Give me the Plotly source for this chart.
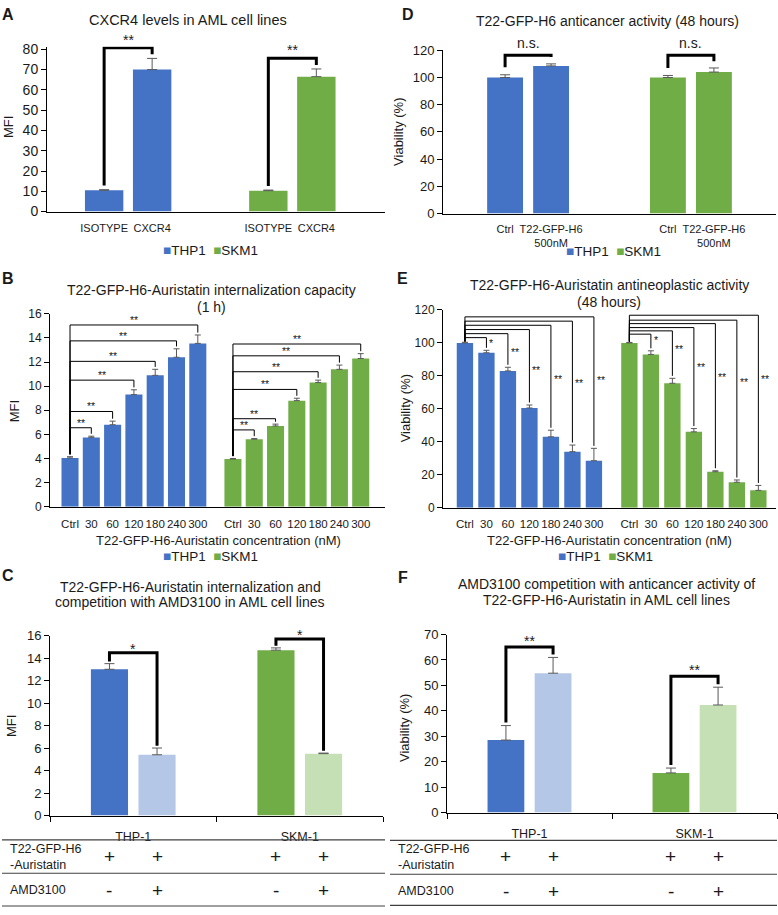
import plotly.graph_objects as go

W, H = 778, 915
FONT = "Liberation Sans, Arial, Helvetica, sans-serif"
TXT = "#1a1a1a"
BLUE, GREEN = "#4472C4", "#70AD47"
LBLUE, LGREEN = "#B4C7E7", "#C5E0B4"
ERRC = "#595959"

# ---------------- data ----------------
# Panel A
a_labels = ["ISOTYPE", "CXCR4"]
a_thp1 = [10.5, 70.0]
a_thp1_err = [0.3, 5.5]
a_skm1 = [10.3, 66.5]
a_skm1_err = [0.3, 3.8]
a_sig = ["**", "**"]
a_bracket_top = [80.7, 75.6]

# Panel D
d_labels = ["Ctrl", "T22-GFP-H6<br>500nM"]
d_thp1 = [100.0, 108.5]
d_thp1_err = [2.0, 1.5]
d_skm1 = [100.0, 104.0]
d_skm1_err = [1.5, 3.0]
d_sig = ["n.s.", "n.s."]
d_bracket_top = [116.4, 116.4]

# Panel B
b_labels = ["Ctrl", "30", "60", "120", "180", "240", "300"]
b_thp1 = [4.05, 5.75, 6.8, 9.3, 10.9, 12.4, 13.55]
b_thp1_err = [0.1, 0.1, 0.3, 0.4, 0.5, 0.7, 0.7]
b_skm1 = [3.95, 5.6, 6.7, 8.8, 10.3, 11.4, 12.3]
b_skm1_err = [0.05, 0.05, 0.15, 0.2, 0.2, 0.35, 0.4]
b_thp1_sig = ["**", "**", "**", "**", "**", "**"]
b_skm1_sig = ["**", "**", "**", "**", "**", "**"]
b_thp1_levels = [6.55, 7.9, 10.5, 12.06, 13.76, 15.08]
b_skm1_levels = [6.37, 7.3, 9.73, 11.2, 12.52, 13.5]

# Panel E
e_labels = ["Ctrl", "30", "60", "120", "180", "240", "300"]
e_thp1 = [100.0, 94.0, 83.0, 60.5, 43.0, 34.0, 28.5]
e_thp1_err = [0.4, 1.5, 2.2, 1.8, 4.0, 4.0, 7.5]
e_skm1 = [100.0, 93.0, 75.5, 46.0, 21.8, 15.4, 10.5]
e_skm1_err = [0.3, 2.2, 3.0, 2.0, 0.6, 1.4, 3.0]
e_thp1_sig = ["*", "**", "**", "**", "**", "**"]
e_skm1_sig = ["*", "**", "**", "**", "**", "**"]
e_thp1_levels = [103.2, 105.6, 108.1, 110.7, 113.2, 115.8]
e_skm1_levels = [105.3, 107.3, 109.3, 111.7, 113.8, 116.8]
e_thp1_label_y = [100.0, 94.5, 83.5, 78.0, 75.5, 77.5]
e_skm1_label_y = [102.0, 96.5, 85.5, 79.5, 76.0, 78.0]

# Panel C
c_groups = ["THP-1", "SKM-1"]
c_drug = [13.0, 14.7]
c_drug_err = [0.5, 0.2]
c_drug_amd = [5.4, 5.5]
c_drug_amd_err = [0.6, 0.05]
c_sig = ["*", "*"]
c_bracket_top = [14.47, 15.7]

# Panel F
f_groups = ["THP-1", "SKM-1"]
f_drug = [28.5, 15.6]
f_drug_err = [5.7, 1.9]
f_drug_amd = [54.8, 42.3]
f_drug_amd_err = [6.2, 7.0]
f_sig = ["**", "**"]
f_bracket_top = [65.1, 53.6]

# Table rows (C and F)
row_labels = ["T22-GFP-H6<br>-Auristatin", "AMD3100"]
row_drug = ["+", "+", "+", "+"]
row_amd = ["-", "+", "-", "+"]

# ---------------- figure ----------------
fig = go.Figure()
shapes = []
ann = []


def sfx(n):
    return "" if n == 1 else str(n)


def txt(x, y, s, size, xref="paper", yref="paper", xanchor="center", yanchor="middle",
        bold=False, angle=0, xshift=0, yshift=0, align="center"):
    if xref == "paper":
        x = x / W
    if yref == "paper":
        y = 1 - y / H
    ann.append(dict(x=x, y=y, xref=xref, yref=yref, text=("<b>%s</b>" % s) if bold else s,
                    showarrow=False, xanchor=xanchor, yanchor=yanchor, textangle=angle,
                    xshift=xshift, yshift=yshift, align=align,
                    font=dict(family=FONT, size=size, color=TXT)))


axes = {}


def set_axes(n, xpx, ypx, xrange, yrange, dtick, tickvals, ticktext, xfs, yfs, standoff,
             minor_vals=None):
    s = sfx(n)
    xa = dict(domain=[xpx[0] / W, xpx[1] / W], range=xrange, anchor="y" + s,
              showline=True, linecolor="black", linewidth=1, ticks="",
              tickmode="array", tickvals=tickvals, ticktext=ticktext,
              tickfont=dict(family=FONT, size=xfs, color=TXT), showgrid=False,
              zeroline=False, ticklabelstandoff=standoff, fixedrange=True)
    if minor_vals is not None:
        xa["minor"] = dict(tickmode="array", tickvals=minor_vals, ticks="outside",
                           ticklen=5, tickcolor="black", tickwidth=1, showgrid=False)
    ya = dict(domain=[1 - ypx[1] / H, 1 - ypx[0] / H], range=yrange, anchor="x" + s,
              showline=True, linecolor="black", linewidth=1, ticks="outside", ticklen=5,
              tickcolor="black", tick0=0, dtick=dtick,
              tickfont=dict(family=FONT, size=yfs, color=TXT), showgrid=False,
              zeroline=False, fixedrange=True)
    axes["xaxis" + s] = xa
    axes["yaxis" + s] = ya


def add_bars(n, xs, ys, errs, colors, width, capw):
    s = sfx(n)
    fig.add_trace(go.Bar(
        x=xs, y=ys, width=width, marker=dict(color=colors, line=dict(width=0)),
        error_y=dict(type="data", array=errs, arrayminus=[0] * len(errs), symmetric=False,
                     color=ERRC, thickness=1, width=capw),
        xaxis="x" + s, yaxis="y" + s, showlegend=False, hoverinfo="skip"))


def bracket(n, x0, x1, y0, y1, top, width):
    s = sfx(n)
    path = "M %f,%f L %f,%f L %f,%f L %f,%f" % (x0, y0, x0, top, x1, top, x1, y1)
    shapes.append(dict(type="path", path=path, xref="x" + s, yref="y" + s,
                       line=dict(color="black", width=width)))


def legend_text(x, y):
    s = ("<span style='color:%s'>\u25A0</span>THP1  <span style='color:%s'>\u25A0</span>SKM1"
         % (BLUE, GREEN))
    txt(x, y, s, 13.5)


# ---------------- Panel A ----------------
A_GAP = 3.42
ax_t = [i for i in range(len(a_labels))]
ax_s = [i + A_GAP for i in range(len(a_labels))]
set_axes(1, (47, 385), (40.5, 208), [-1.19, 5.85], [0, 81.2], 10,
         ax_t + ax_s, a_labels + a_labels, 11, 14, 6)
add_bars(1, ax_t, a_thp1, a_thp1_err, BLUE, 0.8, 5)
add_bars(1, ax_s, a_skm1, a_skm1_err, GREEN, 0.8, 5)
for xs, vals, errs, top, sig in [(ax_t, a_thp1, a_thp1_err, a_bracket_top[0], a_sig[0]),
                                 (ax_s, a_skm1, a_skm1_err, a_bracket_top[1], a_sig[1])]:
    bracket(1, xs[0], xs[1], vals[0] + errs[0] + 2, vals[1] + errs[1] + 2, top, 3)
    txt((xs[0] + xs[1]) / 2, top, sig, 14, xref="x", yref="y", yanchor="bottom", yshift=-2)
txt(8, 8, "A", 16, bold=True)
txt(188, 13.5, "CXCR4 levels in AML cell lines", 14.5)
txt(9, 122, "MFI", 13, angle=-90)
legend_text(210, 248)

# ---------------- Panel D ----------------
D_GAP = 3.54
dx_t = [i for i in range(len(d_labels))]
dx_s = [i + D_GAP for i in range(len(d_labels))]
set_axes(2, (443, 776), (44, 210), [-1.35, 5.89], [0, 120], 20,
         dx_t + dx_s, d_labels + d_labels, 11, 13, 5)
add_bars(2, dx_t, d_thp1, d_thp1_err, BLUE, 0.78, 5)
add_bars(2, dx_s, d_skm1, d_skm1_err, GREEN, 0.78, 5)
for xs, vals, errs, top, sig in [(dx_t, d_thp1, d_thp1_err, d_bracket_top[0], d_sig[0]),
                                 (dx_s, d_skm1, d_skm1_err, d_bracket_top[1], d_sig[1])]:
    bracket(2, xs[0], xs[1], vals[0] + errs[0] + 5.5, vals[1] + errs[1] + 5, top, 3)
    txt((xs[0] + xs[1]) / 2, top, sig, 14, xref="x2", yref="y2", yanchor="bottom", yshift=2)
txt(408, 8, "D", 16, bold=True)
txt(607, 14, "T22-GFP-H6 anticancer activity (48 hours)", 14)
txt(399, 127, "Viability (%)", 13, angle=-90)
legend_text(613, 249)

# ---------------- Panel B ----------------
B_GAP = 7.65
bx_t = [i for i in range(len(b_labels))]
bx_s = [i + B_GAP for i in range(len(b_labels))]
set_axes(3, (50, 385), (312, 508), [-0.94, 14.79], [0, 16], 2,
         bx_t + bx_s, b_labels + b_labels, 11.5, 12, 7)
add_bars(3, bx_t, b_thp1, b_thp1_err, BLUE, 0.8, 3)
add_bars(3, bx_s, b_skm1, b_skm1_err, GREEN, 0.8, 3)
for xs, vals, errs, levels, sigs in [(bx_t, b_thp1, b_thp1_err, b_thp1_levels, b_thp1_sig),
                                     (bx_s, b_skm1, b_skm1_err, b_skm1_levels, b_skm1_sig)]:
    for k, (lvl, sig) in enumerate(zip(levels, sigs)):
        j = k + 1
        bracket(3, xs[0], xs[j], vals[0] + errs[0] + 0.2, vals[j] + errs[j] + 0.2, lvl, 1)
        txt((xs[0] + xs[j]) / 2, lvl, sig, 10.5, xref="x3", yref="y3", yanchor="bottom", yshift=-3)
txt(8, 276, "B", 16, bold=True)
txt(211, 288, "T22-GFP-H6-Auristatin internalization capacity", 14)
txt(211, 305, "(1 h)", 14)
txt(14, 411, "MFI", 13, angle=-90)
txt(218, 542, "T22-GFP-H6-Auristatin concentration (nM)", 13)
legend_text(210, 559)

# ---------------- Panel E ----------------
E_GAP = 7.65
ex_t = [i for i in range(len(e_labels))]
ex_s = [i + E_GAP for i in range(len(e_labels))]
set_axes(4, (443, 776), (308, 509), [-1.02, 14.47], [0, 120], 20,
         ex_t + ex_s, e_labels + e_labels, 11.5, 12, 6)
add_bars(4, ex_t, e_thp1, e_thp1_err, BLUE, 0.76, 3)
add_bars(4, ex_s, e_skm1, e_skm1_err, GREEN, 0.76, 3)
for xs, vals, errs, levels, sigs, ly in [
        (ex_t, e_thp1, e_thp1_err, e_thp1_levels, e_thp1_sig, e_thp1_label_y),
        (ex_s, e_skm1, e_skm1_err, e_skm1_levels, e_skm1_sig, e_skm1_label_y)]:
    for k, (lvl, sig, yy) in enumerate(zip(levels, sigs, ly)):
        j = k + 1
        bracket(4, xs[0], xs[j], vals[0] + errs[0] + 0.5, vals[j] + errs[j] + 1.5, lvl, 1)
        txt(xs[j], yy, sig, 10.5, xref="x4", yref="y4", xanchor="left", xshift=1)
txt(403, 276, "E", 16, bold=True)
txt(609, 283, "T22-GFP-H6-Auristatin antineoplastic activity", 14)
txt(609, 300, "(48 hours)", 14)
txt(405, 408, "Viability (%)", 13, angle=-90)
txt(609, 542, "T22-GFP-H6-Auristatin concentration (nM)", 13)
legend_text(605, 559)

# ---------------- Panel C / F helpers ----------------
CF_GAP = 3.5


def cf_panel(n, xpx, ypx, yrange, dtick, groups, v1, e1, v2, e2, sigs, tops, gap, yshift,
             colors1, colors2):
    s = sfx(n)
    x1 = [g * CF_GAP for g in range(len(groups))]
    x2 = [g * CF_GAP + 1 for g in range(len(groups))]
    centers = [(a + b) / 2 for a, b in zip(x1, x2)]
    bounds = [x1[0] - 1.25, (x2[0] + x1[1]) / 2, x2[-1] + 1.25]
    set_axes(n, xpx, ypx, [bounds[0], bounds[-1]], yrange, dtick, centers, groups, 12.5, 13, 9,
             minor_vals=bounds)
    add_bars(n, x1, v1, e1, colors1, 0.78, 5)
    add_bars(n, x2, v2, e2, colors2, 0.78, 5)
    for i in range(len(groups)):
        bracket(n, x1[i], x2[i], v1[i] + e1[i] + gap, v2[i] + e2[i] + gap, tops[i], 3)
        txt(centers[i], tops[i], sigs[i], 14, xref="x" + s, yref="y" + s, yanchor="bottom",
            yshift=yshift)
    return x1, x2


def table(n, x1, x2, xl, xr, y_lines, y_rows):
    s = sfx(n)
    for yl in y_lines:
        shapes.append(dict(type="line", xref="paper", yref="paper", x0=xl / W, x1=xr / W,
                           y0=1 - yl / H, y1=1 - yl / H, line=dict(color="#404040", width=1.2)))
    txt(xl + 6, y_rows[0], row_labels[0], 12.5, xanchor="left", align="left")
    txt(xl + 6, y_rows[1], row_labels[1], 12.5, xanchor="left", align="left")
    xs = []
    for a, b in zip(x1, x2):
        xs += [a, b]
    for x, sym in zip(xs, row_drug):
        txt(x, y_rows[0], sym, 19, xref="x" + s, yref="paper")
    for x, sym in zip(xs, row_amd):
        txt(x, y_rows[1], sym, 19, xref="x" + s, yref="paper")


# ---------------- Panel C ----------------
cx1, cx2 = cf_panel(5, (50, 383), (639, 822), [0, 16], 2, c_groups, c_drug, c_drug_err,
                    c_drug_amd, c_drug_amd_err, c_sig, c_bracket_top, 0.2, -6,
                    [BLUE, GREEN], [LBLUE, LGREEN])
table(5, cx1, cx2, 2, 385, [846.7, 880.7, 914], [864, 898])
txt(8, 578, "C", 16, bold=True)
txt(190, 590, "T22-GFP-H6-Auristatin internalization and", 14)
txt(190, 605, "competition with AMD3100 in AML cell lines", 14)
txt(11, 731, "MFI", 13, angle=-90)

# ---------------- Panel F ----------------
fx1, fx2 = cf_panel(6, (447, 777), (638, 819), [0, 70], 10, f_groups, f_drug, f_drug_err,
                    f_drug_amd, f_drug_amd_err, f_sig, f_bracket_top, 1.2, -4,
                    [BLUE, GREEN], [LBLUE, LGREEN])
table(6, fx1, fx2, 390, 777, [847.3, 881.7, 913.3], [864, 899])
txt(403, 580, "F", 16, bold=True)
txt(606, 587, "AMD3100 competition with anticancer activity of", 14)
txt(606, 603, "T22-GFP-H6-Auristatin in AML cell lines", 14)
txt(405, 733, "Viability (%)", 13, angle=-90)

fig.update_layout(
    width=W, height=H, margin=dict(l=0, r=0, t=0, b=0),
    paper_bgcolor="white", plot_bgcolor="white", barmode="overlay",
    showlegend=False, shapes=shapes, annotations=ann,
    font=dict(family=FONT, color=TXT), **axes)

fig.write_html("out.html", config={"displayModeBar": False},
               post_script="document.body.style.margin='0';"
                           "document.body.style.overflow='hidden';")
